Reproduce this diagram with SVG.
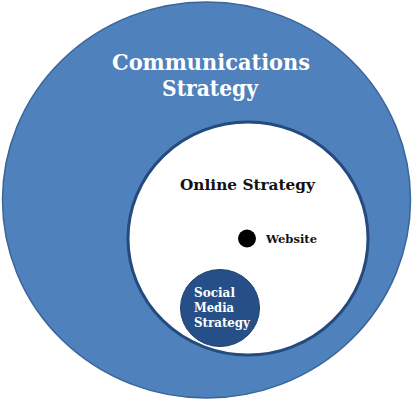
<svg xmlns="http://www.w3.org/2000/svg" width="413" height="400" viewBox="0 0 413 400">
<style>
.t{font-family:"DejaVu Serif","Liberation Serif",serif;font-weight:bold}
.w{fill:#ffffff}
.k{fill:#111111}
</style>
<rect width="413" height="400" fill="#ffffff"/>
<g id="communications">
<ellipse cx="206.5" cy="200" rx="204" ry="198" fill="#4f81bd" stroke="#3b669a" stroke-width="1.5"/>
<text class="t w" x="211" y="70" font-size="22.5" text-anchor="middle" textLength="198" lengthAdjust="spacingAndGlyphs">Communications</text>
<text class="t w" x="210" y="96" font-size="22.5" text-anchor="middle" textLength="96" lengthAdjust="spacingAndGlyphs">Strategy</text>
</g>
<g id="online">
<ellipse cx="248" cy="238.5" rx="120" ry="116.5" fill="#ffffff" stroke="#244a7e" stroke-width="3"/>
<text class="t k" x="180" y="190" font-size="15" textLength="135" lengthAdjust="spacingAndGlyphs">Online Strategy</text>
</g>
<g id="website">
<circle cx="247" cy="238.5" r="9" fill="#000000"/>
<text class="t k" x="266" y="242.5" font-size="11" textLength="51" lengthAdjust="spacingAndGlyphs">Website</text>
</g>
<g id="social">
<ellipse cx="220" cy="308" rx="39.5" ry="38.5" fill="#264f88" stroke="#1f3f6e" stroke-width="1"/>
<text class="t w" x="194" y="297" font-size="13" textLength="41" lengthAdjust="spacingAndGlyphs">Social</text>
<text class="t w" x="194" y="312" font-size="13" textLength="40" lengthAdjust="spacingAndGlyphs">Media</text>
<text class="t w" x="194" y="327" font-size="13" textLength="56" lengthAdjust="spacingAndGlyphs">Strategy</text>
</g>
<g id="connectors"></g>
</svg>
